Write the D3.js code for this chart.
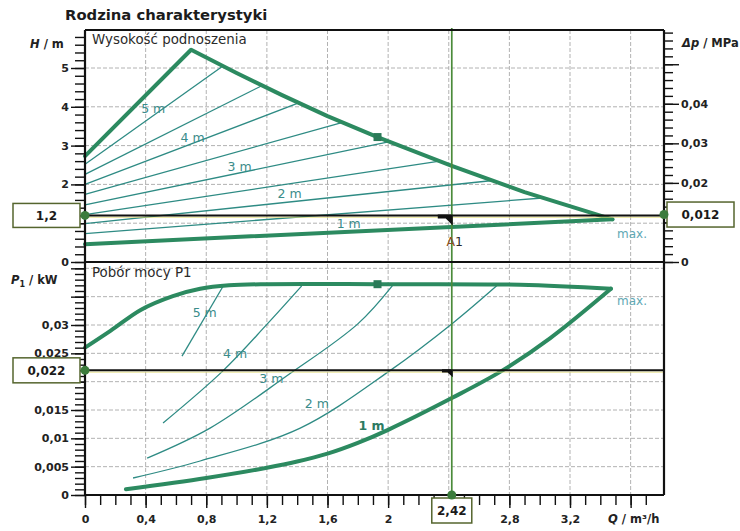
<!DOCTYPE html>
<html>
<head>
<meta charset="utf-8">
<script src="https://cdn.jsdelivr.net/npm/d3@7"></script>
<style>
  html, body { margin: 0; padding: 0; background: #fff; }
  svg { display: block; }
</style>
</head>
<body>
<div id="chart"></div>
<script>
// ── Data ──────────────────────────────────────────────────────────────────
// labelled ticks (values hidden behind the value boxes are left out)
const qTicks       = [0, 0.4, 0.8, 1.2, 1.6, 2, 2.8, 3.2];
const qTickLabels  = ["0", "0,4", "0,8", "1,2", "1,6", "2", "2,8", "3,2"];
const hTicks       = [0, 2, 3, 4, 5];
const hTickLabels  = ["0", "2", "3", "4", "5"];
const dpTicks      = [0, 0.02, 0.03, 0.04];
const dpTickLabels = ["0", "0,02", "0,03", "0,04"];
const pTicks       = [0, 0.005, 0.01, 0.015, 0.025, 0.03];
const pTickLabels  = ["0", "0,005", "0,01", "0,015", "0,025", "0,03"];

// head envelope [Q m³/h, H m]
const headMax = [[0, 2.73], [0.70, 5.47], [1.0, 4.87], [1.3, 4.30], [1.6, 3.76],
                 [1.93, 3.22], [2.42, 2.48], [2.9, 1.80], [3.48, 1.10]];
const headMin = [[0, 0.46], [3.48, 1.10]];

// constant-head control lines
const headSteps = [
  [[0, 2.52], [0.91, 5.05]],
  [[0, 2.26], [1.17, 4.55]],
  [[0, 2.00], [1.41, 4.10]],
  [[0, 1.74], [1.70, 3.60]],
  [[0, 1.47], [2.01, 3.10]],
  [[0, 1.22], [2.34, 2.60]],
  [[0, 0.99], [2.69, 2.10]],
  [[0, 0.73], [3.02, 1.65]],
];

// power envelope [Q m³/h, P1 kW]
const powerMax = [[0, 0.0260], [0.17, 0.0290], [0.37, 0.0327], [0.58, 0.0351], [0.76, 0.0364],
                  [0.95, 0.0370], [1.2, 0.0372], [1.93, 0.0372], [2.87, 0.0371], [3.47, 0.0364]];
const powerMin = [[0.27, 0.0010], [0.8, 0.0030], [1.2, 0.0048], [1.4, 0.0059], [1.6, 0.0073],
                  [1.8, 0.0092], [2.0, 0.0115], [2.42, 0.0171], [2.75, 0.0219], [3.07, 0.0277],
                  [3.47, 0.0364]];

const powerSteps = [
  [[0.64, 0.0245], [0.91, 0.0368]],
  [[0.515, 0.0127], [0.91, 0.0219], [1.2, 0.0301], [1.43, 0.0369]],
  [[0.41, 0.0065], [0.825, 0.0118], [1.33, 0.0210], [1.80, 0.0302], [2.03, 0.0370]],
  [[0.317, 0.0030], [0.76, 0.0060], [1.42, 0.0118], [2.01, 0.0219], [2.43, 0.0304], [2.72, 0.0370]],
];

const headLabels   = ["5 m", "4 m", "3 m", "2 m", "1 m"];
const headLabelAt  = [[0.45, 3.95], [0.71, 3.20], [1.02, 2.47], [1.35, 1.75], [1.74, 0.98]];
const powerLabels  = ["5 m", "4 m", "3 m", "2 m", "1 m"];
const powerLabelAt = [[0.79, 0.0322], [0.99, 0.0249], [1.23, 0.0205], [1.53, 0.0161], [1.89, 0.0122]];

const markerQ = 1.93, markerH = 3.22, markerP = 0.0372;
const opQ = 2.42, opH = 1.2, opDp = 0.012, opP = 0.022;
const opLabels = { q: "2,42", h: "1,2", dp: "0,012", p: "0,022" };

// ── Layout ──────────────────────────────────────────────────────────────
const W = 740, H = 531;
const frame = { left: 85, right: 664, top: 30, mid: 262, bottom: 495 };

const THICK = "#2c8a60";
const THIN  = "#2e8b84";
const LABEL = "#3a8c8a";
const FONT  = "'DejaVu Sans', sans-serif";

const svg = d3.select("#chart").append("svg")
  .attr("width", W).attr("height", H);
svg.append("rect").attr("width", W).attr("height", H).attr("fill", "#fff");

// ── Scales ──────────────────────────────────────────────────────────────
const x   = d3.scaleLinear().domain([0, 3.2]).range([frame.left, 570]);
const yH  = d3.scaleLinear().domain([0, 5]).range([frame.mid, 68]);
const yDp = d3.scaleLinear().domain([0, 0.05]).range([frame.mid, yH(0.05 / 0.00981)]);
const yP  = d3.scaleLinear().domain([0, 0.03]).range([frame.bottom, 325]);

// ── Grid ────────────────────────────────────────────────────────────────
const grid = svg.append("g")
  .attr("stroke", "#a9a9a9").attr("stroke-width", 0.9).attr("stroke-dasharray", "4,2");

d3.range(0.4, 3.7, 0.4).forEach(q => {
  grid.append("line").attr("x1", x(q)).attr("x2", x(q))
    .attr("y1", frame.top).attr("y2", frame.bottom);
});
d3.range(1, 5.5, 1).forEach(h => {
  grid.append("line").attr("x1", frame.left).attr("x2", frame.right)
    .attr("y1", yH(h)).attr("y2", yH(h));
});
d3.range(0.005, 0.0405, 0.005).forEach(p => {
  grid.append("line").attr("x1", frame.left).attr("x2", frame.right)
    .attr("y1", yP(p)).attr("y2", yP(p));
});

// ── Curves ──────────────────────────────────────────────────────────────
const headLine  = d3.line().x(d => x(d[0])).y(d => yH(d[1]));
const powerLine = d3.line().x(d => x(d[0])).y(d => yP(d[1])).curve(d3.curveCatmullRom.alpha(0.5));

headSteps.forEach(s => {
  svg.append("path").attr("d", headLine(s))
    .attr("fill", "none").attr("stroke", THIN).attr("stroke-width", 1.3);
});
powerSteps.forEach(s => {
  svg.append("path").attr("d", powerLine(s))
    .attr("fill", "none").attr("stroke", THIN).attr("stroke-width", 1.3);
});

[headLine(headMax), headLine(headMin), powerLine(powerMax), powerLine(powerMin)].forEach(d => {
  svg.append("path").attr("d", d)
    .attr("fill", "none").attr("stroke", THICK).attr("stroke-width", 4)
    .attr("stroke-linejoin", "round").attr("stroke-linecap", "round");
});

// square markers
[[x(markerQ), yH(markerH)], [x(markerQ), yP(markerP)]].forEach(([cx, cy]) => {
  svg.append("rect").attr("x", cx - 4).attr("y", cy - 4)
    .attr("width", 8).attr("height", 8).attr("fill", "#2a7a58");
});

// ── Operating point ─────────────────────────────────────────────────────
[yH(opH), yP(opP)].forEach(yy => {
  svg.append("line").attr("x1", frame.left).attr("x2", frame.right)
    .attr("y1", yy + 1.8).attr("y2", yy + 1.8)
    .attr("stroke", "#e4dc70").attr("stroke-width", 1).attr("opacity", 0.8);
  svg.append("line").attr("x1", frame.left).attr("x2", frame.right)
    .attr("y1", yy).attr("y2", yy)
    .attr("stroke", "#111").attr("stroke-width", 2);
});

svg.append("line")
  .attr("x1", x(opQ)).attr("x2", x(opQ))
  .attr("y1", frame.top - 2).attr("y2", frame.bottom)
  .attr("stroke", "#4b8b3b").attr("stroke-width", 1.7);

// black flags at the intersections
const flag = (cx, cy, s) =>
  `M${cx - 14 * s},${cy - 1} L${cx + 1},${cy - 1} L${cx + 1},${cy + 10 * s} L${cx - 6 * s},${cy + 3 * s} L${cx - 14 * s},${cy + 3 * s} Z`;
svg.append("path").attr("d", flag(x(opQ), yH(opH), 1)).attr("fill", "#111");
svg.append("path").attr("d", flag(x(opQ), yP(opP), 0.7)).attr("fill", "#111");

svg.append("text")
  .attr("x", x(opQ) + 3).attr("y", yH(opH) + 31)
  .attr("text-anchor", "middle")
  .attr("font-family", FONT).attr("font-size", 12.5).attr("fill", "#2a2a2a")
  .call(t => {
    t.append("tspan").attr("fill", "#8a4f22").text("A");
    t.append("tspan").text("1");
  });

// ── Frame ───────────────────────────────────────────────────────────────
const frameG = svg.append("g").attr("stroke", "#111").attr("stroke-width", 2.2);
frameG.append("line").attr("x1", frame.left).attr("x2", frame.right).attr("y1", frame.top).attr("y2", frame.top);
frameG.append("line").attr("x1", frame.left).attr("x2", frame.right).attr("y1", frame.mid).attr("y2", frame.mid);
frameG.append("line").attr("x1", frame.left).attr("x2", frame.right).attr("y1", frame.bottom).attr("y2", frame.bottom);
frameG.append("line").attr("x1", frame.left).attr("x2", frame.left).attr("y1", frame.top).attr("y2", frame.bottom);
frameG.append("line").attr("x1", frame.right).attr("x2", frame.right).attr("y1", frame.top).attr("y2", frame.bottom);

// ── Axes ────────────────────────────────────────────────────────────────
function lookup(values, labels) {
  return d => {
    const i = values.findIndex(v => Math.abs(v - d) < 1e-9);
    return i < 0 ? "" : labels[i];
  };
}

function tickAxis(axisFn, scale, values, size, transform, fmt, pad = 2) {
  const ax = axisFn(scale).tickValues(values).tickSize(size).tickPadding(pad)
    .tickFormat(fmt || "");
  const g = svg.append("g").attr("transform", transform).call(ax);
  g.select(".domain").remove();
  g.attr("font-family", FONT).attr("font-size", 11).attr("font-weight", "bold");
  g.selectAll("line").attr("stroke", "#111").attr("stroke-width", 1.4);
  g.selectAll("text").attr("fill", "#222");
  g.selectAll("text").filter(function () { return this.textContent === ""; }).remove();
  return g;
}

// left · H
tickAxis(d3.axisLeft, yH, d3.range(0, 5.81, 0.2), 10, `translate(${frame.left},0)`);
tickAxis(d3.axisLeft, yH, d3.range(0, 5.5, 1), 14, `translate(${frame.left},0)`, lookup(hTicks, hTickLabels));

// left · P1
tickAxis(d3.axisLeft, yP, d3.range(0, 0.0405, 0.001), 10, `translate(${frame.left},0)`);
tickAxis(d3.axisLeft, yP, d3.range(0, 0.0405, 0.005), 14, `translate(${frame.left},0)`, lookup(pTicks, pTickLabels));

// right · Δp
tickAxis(d3.axisRight, yDp, d3.range(0, 0.0581, 0.002), 9, `translate(${frame.right},0)`);
tickAxis(d3.axisRight, yDp, d3.range(0, 0.0505, 0.01), 15, `translate(${frame.right},0)`, lookup(dpTicks, dpTickLabels));

// bottom · Q
tickAxis(d3.axisBottom, x, d3.range(0, 3.71, 0.1), 10, `translate(0,${frame.bottom})`);
tickAxis(d3.axisBottom, x, d3.range(0, 3.61, 0.4), 13, `translate(0,${frame.bottom})`, lookup(qTicks, qTickLabels), 7);

// ── Axis titles ─────────────────────────────────────────────────────────
function axisTitle(tx, ty, parts) {
  const t = svg.append("text").attr("x", tx).attr("y", ty)
    .attr("font-family", FONT).attr("font-size", 11.5).attr("font-weight", "bold").attr("fill", "#222");
  parts.forEach(([s, style]) => {
    const sp = t.append("tspan").text(s);
    if (style === "i") sp.attr("font-style", "italic");
    if (style === "sub") sp.attr("font-size", 8).attr("dy", 3);
    if (style === "up") sp.attr("dy", -3);
  });
}
axisTitle(30, 48, [["H", "i"], [" / m"]]);
axisTitle(11, 284, [["P", "i"], ["1", "sub"], [" / kW", "up"]]);
axisTitle(682, 47, [["Δp", "i"], [" / MPa"]]);
axisTitle(608, 523, [["Q", "i"], [" / m³/h"]]);

svg.append("text").attr("x", 65).attr("y", 20)
  .attr("font-family", FONT).attr("font-size", 14.8).attr("font-weight", "bold").attr("fill", "#1c1c1c")
  .text("Rodzina charakterystyki");

svg.append("text").attr("x", 92).attr("y", 44)
  .attr("font-family", FONT).attr("font-size", 13.4).attr("fill", "#2b2b2b")
  .text("Wysokość podnoszenia");
svg.append("text").attr("x", 92).attr("y", 277)
  .attr("font-family", FONT).attr("font-size", 13.4).attr("fill", "#2b2b2b")
  .text("Pobór mocy P1");

// ── Curve labels ────────────────────────────────────────────────────────
headLabels.forEach((s, i) => {
  svg.append("text")
    .attr("x", x(headLabelAt[i][0])).attr("y", yH(headLabelAt[i][1])).attr("dy", "0.35em")
    .attr("text-anchor", "middle")
    .attr("font-family", FONT).attr("font-size", 12.5).attr("fill", LABEL)
    .text(s);
});
powerLabels.forEach((s, i) => {
  const last = i === powerLabels.length - 1;
  svg.append("text")
    .attr("x", x(powerLabelAt[i][0])).attr("y", yP(powerLabelAt[i][1])).attr("dy", "0.35em")
    .attr("text-anchor", "middle")
    .attr("font-family", FONT).attr("font-size", 12.5)
    .attr("font-weight", last ? "bold" : "normal")
    .attr("fill", last ? "#2c7a62" : LABEL)
    .text(s);
});

[yH(0.72), yP(0.0343)].forEach(yy => {
  svg.append("text").attr("x", 632).attr("y", yy).attr("dy", "0.35em")
    .attr("text-anchor", "middle")
    .attr("font-family", FONT).attr("font-size", 12).attr("fill", "#5ea8b4")
    .text("max.");
});

// ── Value boxes & handles ───────────────────────────────────────────────
function valueBox(x0, x1, cy, h, label) {
  svg.append("rect")
    .attr("x", x0).attr("y", cy - h / 2).attr("width", x1 - x0).attr("height", h)
    .attr("fill", "#fff").attr("stroke", "#55652e").attr("stroke-width", 1.5);
  svg.append("text")
    .attr("x", (x0 + x1) / 2).attr("y", cy).attr("dy", "0.36em")
    .attr("text-anchor", "middle")
    .attr("font-family", FONT).attr("font-size", 12).attr("font-weight", "bold").attr("fill", "#1a1a1a")
    .text(label);
}
valueBox(13, 80, yH(opH), 24, opLabels.h);
valueBox(13, 80, yP(opP), 25, opLabels.p);
valueBox(667, 734, yDp(opDp), 25, opLabels.dp);
valueBox(x(opQ) - 20, x(opQ) + 20, 510.5, 25, opLabels.q);

[[frame.left, yH(opH)], [frame.right, yDp(opDp)], [frame.left, yP(opP)], [x(opQ), frame.bottom]]
  .forEach(([cx, cy]) => {
    svg.append("circle").attr("cx", cx).attr("cy", cy).attr("r", 4.5).attr("fill", "#3c7c3c");
  });
</script>
</body>
</html>
